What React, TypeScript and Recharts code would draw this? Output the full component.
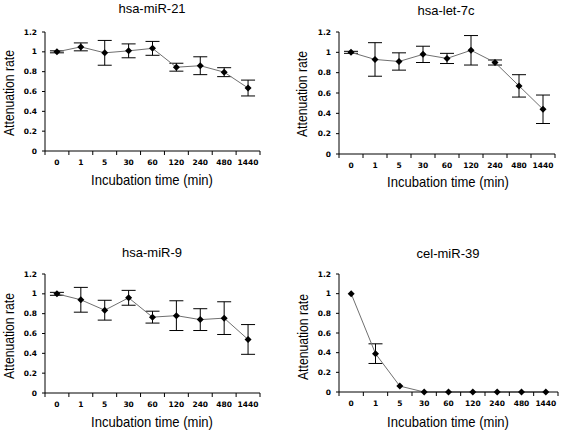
import React from 'react';
import { LineChart, Line, XAxis, YAxis, ErrorBar } from 'recharts';

const timeLabels = ['0', '1', '5', '30', '60', '120', '240', '480', '1440'];
const yTicks = [0, 0.2, 0.4, 0.6, 0.8, 1, 1.2];

const mir21Values = [1.0, 1.05, 0.99, 1.01, 1.035, 0.845, 0.86, 0.795, 0.635];
const mir21Errors = [0.01, 0.04, 0.125, 0.07, 0.07, 0.04, 0.09, 0.045, 0.08];

const let7cValues = [1.0, 0.93, 0.91, 0.98, 0.94, 1.02, 0.9, 0.67, 0.44];
const let7cErrors = [0.01, 0.165, 0.085, 0.08, 0.05, 0.145, 0.025, 0.11, 0.14];

const mir9Values = [1.0, 0.94, 0.835, 0.96, 0.765, 0.78, 0.74, 0.755, 0.54];
const mir9Errors = [0.015, 0.125, 0.1, 0.075, 0.06, 0.15, 0.11, 0.165, 0.15];

const cel39Values = [1.0, 0.39, 0.06, 0.0, 0.0, 0.0, 0.0, 0.0, 0.0];
const cel39Errors = [0, 0.1, 0, 0, 0, 0, 0, 0, 0];

const panels = [
  { title: 'hsa-miR-21', values: mir21Values, errors: mir21Errors,
    plot: { L: 45, R: 260, T: 32, B: 151 }, titleAt: [152, 9], xLabAt: [152, 180], yLabAt: [9, 93] },
  { title: 'hsa-let-7c', values: let7cValues, errors: let7cErrors,
    plot: { L: 339, R: 555, T: 32, B: 154 }, titleAt: [446, 11], xLabAt: [448, 182], yLabAt: [302, 94] },
  { title: 'hsa-miR-9', values: mir9Values, errors: mir9Errors,
    plot: { L: 45, R: 260, T: 274, B: 393 }, titleAt: [152, 253], xLabAt: [152, 422], yLabAt: [9, 336] },
  { title: 'cel-miR-39', values: cel39Values, errors: cel39Errors,
    plot: { L: 339, R: 558, T: 274, B: 392 }, titleAt: [448, 254], xLabAt: [448, 422], yLabAt: [303, 337] },
];

const boundaryTicks = [0, 1, 2, 3, 4, 5, 6, 7, 8, 9];
const centerTicks = timeLabels.map((_, i) => i + 0.5);

const TEXT_FONT = '"Liberation Sans", Arial, sans-serif';
const TICK_FONT = '"DejaVu Sans", Verdana, sans-serif';

const Diamond = (props: any) => {
  const { cx, cy, index } = props;
  if (cx == null || cy == null) return null;
  const r = 3.5;
  return (
    <path
      key={`d-${index}`}
      d={`M${cx},${cy - r}L${cx + r},${cy}L${cx},${cy + r}L${cx - r},${cy}Z`}
      fill="#000"
      stroke="none"
    />
  );
};

const YW = 36;
const PT = 6;
const PR = 10;

function Panel({ p }: { p: typeof panels[number] }) {
  const data = p.values.map((v, i) => ({ x: i + 0.5, y: v, err: p.errors[i] }));
  const { L, R, T, B } = p.plot;
  const width = R - L + YW + PR;
  const height = B - T + PT + 4 + 16;
  const tickStyle = { fontFamily: TICK_FONT, fontSize: 7.5, fontWeight: 'bold', fill: '#000' } as any;
  return (
    <>
      <div style={{ position: 'absolute', left: L - YW, top: T - PT }}>
        <LineChart width={width} height={height} data={data}
          margin={{ top: PT, right: PR, bottom: 0, left: 0 }}>
          <XAxis xAxisId="b" type="number" dataKey="x" domain={[0, 9]} ticks={boundaryTicks}
            interval={0} tickSize={4} height={4} tickFormatter={() => ''}
            axisLine={{ stroke: '#000' }} tickLine={{ stroke: '#000' }} />
          <XAxis xAxisId="l" type="number" dataKey="x" domain={[0, 9]} ticks={centerTicks}
            interval={0} tickSize={0} tickMargin={5} height={16}
            axisLine={false} tickLine={false} tick={tickStyle}
            tickFormatter={(v: number) => timeLabels[Math.round(v - 0.5)]} />
          <YAxis type="number" domain={[0, 1.2]} ticks={yTicks} interval={0} width={YW}
            tickSize={3} tickMargin={5} tick={tickStyle}
            axisLine={{ stroke: '#000' }} tickLine={{ stroke: '#000' }} />
          <Line xAxisId="b" type="linear" dataKey="y" stroke="#707070" strokeWidth={1}
            dot={Diamond} activeDot={false} isAnimationActive={false}>
            <ErrorBar dataKey="err" width={7} stroke="#000" strokeWidth={1} direction="y" />
          </Line>
        </LineChart>
      </div>
      <div style={{ position: 'absolute', left: p.titleAt[0] - 100, top: p.titleAt[1] - 8, width: 200,
        height: 16, lineHeight: '16px', textAlign: 'center', fontFamily: TEXT_FONT, fontSize: 13 }}>
        {p.title}
      </div>
      <div style={{ position: 'absolute', left: p.xLabAt[0] - 100, top: p.xLabAt[1] - 9, width: 200,
        height: 18, lineHeight: '18px', textAlign: 'center', fontFamily: TEXT_FONT, fontSize: 15,
        transform: 'scaleX(0.87)', transformOrigin: '50% 50%' }}>
        Incubation time (min)
      </div>
      <div style={{ position: 'absolute', left: p.yLabAt[0] - 100, top: p.yLabAt[1] - 9, width: 200,
        height: 18, lineHeight: '18px', textAlign: 'center', fontFamily: TEXT_FONT, fontSize: 14,
        transform: 'rotate(-90deg) scaleX(0.87)', transformOrigin: '50% 50%' }}>
        Attenuation rate
      </div>
    </>
  );
}

export default function App() {
  return (
    <div style={{ position: 'absolute', left: 0, top: 0, width: 563, height: 431, background: '#fff', overflow: 'hidden' }}>
      {panels.map((p) => (
        <Panel key={p.title} p={p} />
      ))}
    </div>
  );
}
